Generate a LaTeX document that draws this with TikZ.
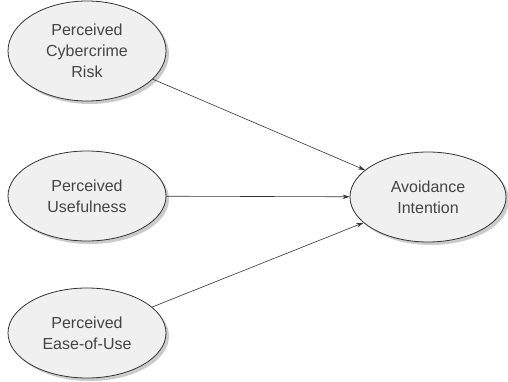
\documentclass[tikz,border=0pt]{standalone}
\usepackage{fontspec}
\setmainfont{Liberation Sans}
\usetikzlibrary{shapes.geometric,shadows,arrows.meta}
\definecolor{ovalfill}{HTML}{F0F0F0}
\definecolor{ovalline}{HTML}{333333}
\definecolor{ovaltext}{HTML}{444444}
\tikzset{
  construct/.style={ellipse,draw=ovalline,fill=ovalfill,line width=0.8pt,
    inner sep=0pt,minimum width=158pt,minimum height=90pt,
    text=ovaltext,align=center,font=\fontsize{16}{21}\selectfont,
    drop shadow={shadow xshift=3pt,shadow yshift=-3pt,fill=black!45,opacity=0.45}},
  path/.style={draw=ovalline,line width=0.6pt,-{Stealth[length=7pt,width=4.5pt]}}
}
\begin{document}
\begin{tikzpicture}[x=1pt,y=-1pt]
  \useasboundingbox (0,0) rectangle (508,382);
  \node[construct,minimum height=100pt] (risk) at (87,51) {Perceived\\Cybercrime\\Risk};
  \node[construct] (useful) at (87,196) {Perceived\\Usefulness};
  \node[construct] (ease) at (87,333) {Perceived\\Ease-of-Use};
  \node[construct,minimum width=156pt] (avoid) at (428,197) {Avoidance\\Intention};
  % paths
  \draw[path] (risk) -- (avoid);
  \draw[path] (useful) -- (avoid);
  \draw[path] (ease) -- (avoid);
\end{tikzpicture}
\end{document}
